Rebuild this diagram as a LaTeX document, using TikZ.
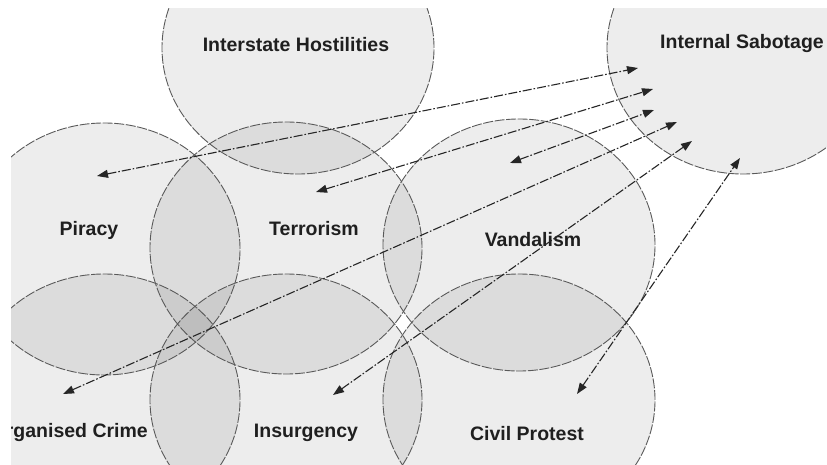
\documentclass[tikz,border=0pt]{standalone}
\usepackage{fontspec}
\setmainfont{Liberation Sans}
\usetikzlibrary{arrows.meta}
\tikzset{
  zone/.style={fill=black, fill opacity=0.07},
  zoneline/.style={draw=black!65, line width=0.9pt, dash pattern=on 10pt off 1.6pt},
  lbl/.style={anchor=base, text=black!88, font=\fontsize{19.5}{23}\selectfont\bfseries, inner sep=0pt},
  link/.style={draw=black!85, line width=1.1pt, dash pattern=on 9pt off 2pt on 1.6pt off 2pt,
    {Triangle[length=11pt,width=8pt]}-{Triangle[length=11pt,width=8pt]}}
}
\begin{document}
\begin{tikzpicture}[x=1pt,y=-1pt]
\useasboundingbox (0,0) rectangle (827,465);
\begin{scope}
\clip (11,9) rectangle (827,465);
% fills
\foreach \cx/\cy in {298/48, 743/48, 104/249, 286/248, 519/245, 104/400, 286/400, 519/400}{
  \path[zone] (\cx,\cy) ellipse [x radius=136pt, y radius=126pt];
}
% outlines
\foreach \cx/\cy in {298/48, 743/48, 104/249, 286/248, 519/245, 104/400, 286/400, 519/400}{
  \path[zoneline] (\cx,\cy) ellipse [x radius=136pt, y radius=126pt];
}
% labels
\node[lbl] (inter) at (296,52) {Interstate Hostilities};
\node[lbl] (sabo) at (742,49) {Internal Sabotage};
\node[lbl] (pir) at (89,235) {Piracy};
\node[lbl] (ter) at (314,236) {Terrorism};
\node[lbl] (van) at (533,247) {Vandalism};
\node[lbl, anchor=base east] (org) at (148,437) {Organised Crime};
\node[lbl] (ins) at (306,437) {Insurgency};
\node[lbl] (civ) at (527,440) {Civil Protest};
% arrow ends
\coordinate (pA) at (97,176);   \coordinate (sA) at (638,68);
\coordinate (pB) at (316,192);  \coordinate (sB) at (653,89);
\coordinate (pC) at (510,163);  \coordinate (sC) at (654,110);
\coordinate (pD) at (63,394);   \coordinate (sD) at (677,122);
\coordinate (pE) at (333,395);  \coordinate (sE) at (692,141);
\coordinate (pF) at (577,394);  \coordinate (sF) at (740,158);
\draw[link] (pA) -- (sA);
\draw[link] (pB) -- (sB);
\draw[link] (pC) -- (sC);
\draw[link] (pD) -- (sD);
\draw[link] (pE) -- (sE);
\draw[link] (pF) -- (sF);
\end{scope}
\end{tikzpicture}
\end{document}
